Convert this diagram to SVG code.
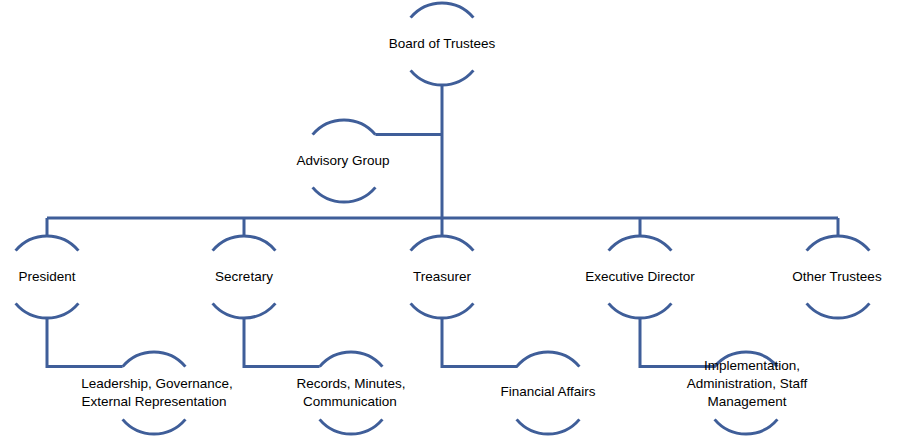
<svg xmlns="http://www.w3.org/2000/svg" xmlns:xlink="http://www.w3.org/1999/xlink" width="900" height="437" viewBox="0 0 900 437">
<style>
.ln{fill:none;stroke:#3f5e99;stroke-width:3;}
.t{font-family:"Liberation Sans",Arial,sans-serif;font-size:13.5px;fill:#000;text-anchor:middle;}
</style>
<defs>
<g id="arcs">
<path class="ln" d="M-31.4,-26.4 A41,41 0 0 1 31.4,-26.4"/>
<path class="ln" d="M-31.4,26.4 A41,41 0 0 0 31.4,26.4"/>
</g>
</defs>
<rect width="900" height="437" fill="#fff"/>
<g id="connectors" class="ln">
<path d="M442,85 V218"/>
<path d="M375.4,134.6 H442"/>
<path d="M47,218 H838"/>
<path d="M47,218 V236 M244,218 V236 M442,218 V236 M640,218 V236 M838,218 V236"/>
<path d="M47,318 V366.6 H122.6"/>
<path d="M244,318 V366.6 H319.6"/>
<path d="M442,318 V366.6 H517.6"/>
<path d="M640,318 V366.6 H715.6"/>
</g>
<g id="board"><use xlink:href="#arcs" transform="translate(442,44)"/><text class="t" x="442" y="48">Board of Trustees</text></g>
<g id="advisory"><use xlink:href="#arcs" transform="translate(344,161)"/><text class="t" x="343" y="165">Advisory Group</text></g>
<g id="president"><use xlink:href="#arcs" transform="translate(47,277)"/><text class="t" x="47" y="281">President</text></g>
<g id="secretary"><use xlink:href="#arcs" transform="translate(244,277)"/><text class="t" x="244" y="281">Secretary</text></g>
<g id="treasurer"><use xlink:href="#arcs" transform="translate(442,277)"/><text class="t" x="442" y="281">Treasurer</text></g>
<g id="executive"><use xlink:href="#arcs" transform="translate(640,277)"/><text class="t" x="640" y="281">Executive Director</text></g>
<g id="others"><use xlink:href="#arcs" transform="translate(838,277)"/><text class="t" x="837" y="281">Other Trustees</text></g>
<g id="leadership"><use xlink:href="#arcs" transform="translate(154,393)"/><text class="t" x="157" y="388">Leadership, Governance,</text><text class="t" x="154" y="406">External Representation</text></g>
<g id="records"><use xlink:href="#arcs" transform="translate(351,393)"/><text class="t" x="351" y="388">Records, Minutes,</text><text class="t" x="350" y="406">Communication</text></g>
<g id="financial"><use xlink:href="#arcs" transform="translate(548,393)"/><text class="t" x="548" y="396">Financial Affairs</text></g>
<g id="implementation"><use xlink:href="#arcs" transform="translate(746,393)"/><text class="t" x="752" y="370">Implementation,</text><text class="t" x="747" y="388">Administration, Staff</text><text class="t" x="747" y="406">Management</text></g>
</svg>
